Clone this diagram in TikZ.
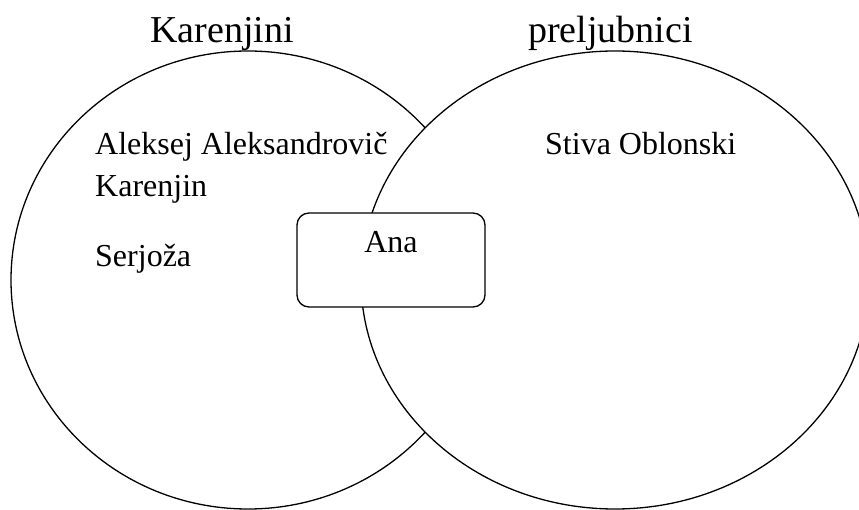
\documentclass[tikz,border=0pt]{standalone}
\usepackage{fontspec}
\setmainfont{Liberation Serif}
\usetikzlibrary{shapes.geometric}
\begin{document}
\begin{tikzpicture}[x=1pt,y=-1pt,
  setshape/.style={ellipse, draw, line width=1.3pt, inner sep=0pt, outer sep=0pt},
  anabox/.style={draw, fill=white, line width=1.3pt, rounded corners=12pt, inner sep=0pt},
  body/.style={anchor=base west, inner sep=0pt, font=\fontsize{32}{38}\selectfont},
  title/.style={anchor=base west, inner sep=0pt, font=\fontsize{38}{44}\selectfont}]
\useasboundingbox (0,0) rectangle (859,510);
\clip (0,0) rectangle (859,510);
\fill[white] (0,0) rectangle (859,510);
\node[setshape, minimum width=474pt, minimum height=458pt] (left) at (248,280) {};
\node[setshape, fill=white, minimum width=508pt, minimum height=458pt] (right) at (615,280) {};
\node[anabox, minimum width=188pt, minimum height=94pt] (box) at (391,260) {};
\node[title] (t1) at (150,43) {Karenjini};
\node[title] (t2) at (528,43) {preljubnici};
\node[body] (alek) at (95,155) {Aleksej Aleksandrovič};
\node[body] (kar) at (95,197) {Karenjin};
\node[body] (ser) at (95,267) {Serjoža};
\node[body] (stiva) at (545,155) {Stiva Oblonski};
\node[body, anchor=base] (ana) at (391,253) {Ana};
\end{tikzpicture}
\end{document}
